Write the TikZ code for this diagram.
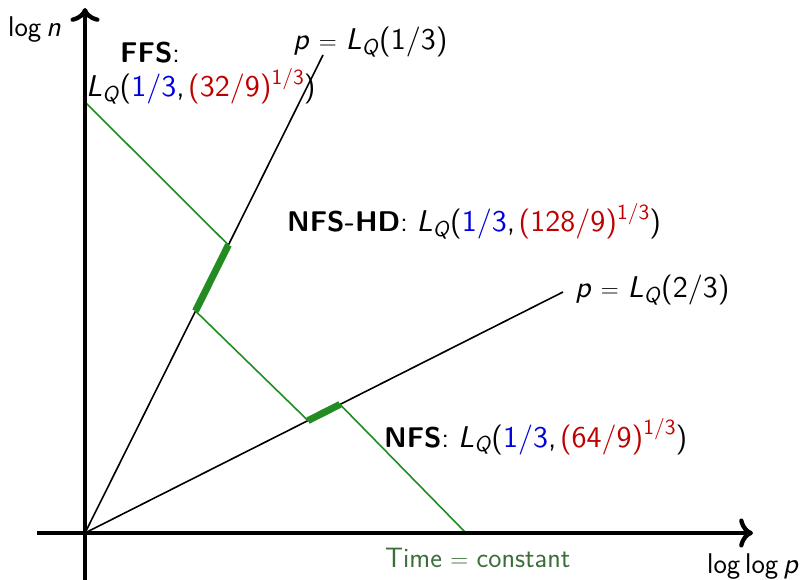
\documentclass[tikz,border=0pt]{standalone}
\usepackage{fontspec}
\newfontfamily\msf{lmsans10-regular}[Extension=.otf, ItalicFont=lmsans10-oblique, BoldFont=lmsans10-bold]
\usetikzlibrary{calc,arrows.meta}
\definecolor{myblue}{RGB}{0,0,220}
\definecolor{myred}{RGB}{190,0,0}
\definecolor{mygreen}{RGB}{34,139,34}
\definecolor{timegreen}{RGB}{60,110,60}
\newcommand{\mth}{\msf\fontsize{30}{34}\selectfont}
\newcommand{\scsz}{\fontsize{21.5}{24}\selectfont}
\newcommand{\LQ}{\textit{L}\raisebox{-0.16em}{\scsz\textit{Q}}}
\newcommand{\sperthird}{\raisebox{0.42em}{\scsz 1/3}}
\newcommand{\eqsign}{\hspace{.3em}$=$\hspace{.3em}}
\newcommand{\cm}{,\hspace{.12em}}
\begin{document}
\begin{tikzpicture}[x=1pt,y=-1pt,
  every node/.style={inner sep=0pt, font=\sffamily\fontsize{28.5}{33}\selectfont},
  axisline/.style={line width=4.3pt,-{To[scale=1.25]}},
  plainline/.style={line width=1.6pt,black},
  timeline/.style={line width=1.6pt,mygreen},
  thickseg/.style={line width=7pt,mygreen}]
\useasboundingbox (0,0) rectangle (806,580);
\coordinate (O) at (85,533);
\coordinate (ytop) at (85,8);
\coordinate (ybot) at (85,582);
\coordinate (xl) at (37,533);
\coordinate (xr) at (753,533);
\coordinate (A) at (323,55);
\coordinate (B) at (563,292);
\coordinate (Y0) at (85,102);
\coordinate (P1) at (228.4,245);
\coordinate (P2) at (195.5,311);
\coordinate (P3) at (308,420.6);
\coordinate (P4) at (340,404.4);
\coordinate (X0) at (466,533);
% lines
\draw[plainline] (O) -- (A);
\draw[plainline] (O) -- (B);
\draw[timeline] (Y0) -- (P1);
\draw[timeline] (P2) -- (P3);
\draw[timeline] (P4) -- (X0);
\draw[thickseg] (P1) -- (P2);
\draw[thickseg] (P3) -- (P4);
% axes
\draw[axisline] (ybot) -- (ytop);
\draw[axisline] (xl) -- (xr);
% labels
\node[anchor=base west] (logn) at (8,37) {log\hspace{.17em}{\msf\textit{n}}};
\node[anchor=base west] (loglogp) at (707,573) {log\hspace{.17em}log\hspace{.17em}{\msf\textit{p}}};
\node[anchor=base west] (p13) at (293,50) {\mth\textit{p}\eqsign\LQ(1/3)};
\node[anchor=base west] (p23) at (575,298) {\mth\textit{p}\eqsign\LQ(2/3)};
\node[anchor=base west] (ffs) at (120,63) {\textbf{FFS}:};
\node[anchor=base west] (ffsL) at (86,97) {\mth\LQ(\textcolor{myblue}{1/3}\cm\textcolor{myred}{(32/9)\sperthird})};
\node[anchor=base west] (nfshd) at (287,232) {\textbf{NFS-HD}: {\mth\LQ(\textcolor{myblue}{1/3}\cm\textcolor{myred}{(128/9)\sperthird})}};
\node[anchor=base west] (nfs) at (384,447) {\textbf{NFS}: {\mth\LQ(\textcolor{myblue}{1/3}\cm\textcolor{myred}{(64/9)\sperthird})}};
\node[anchor=base west, text=timegreen, font=\sffamily\fontsize{28}{33}\selectfont] (time) at (385,567) {Time\eqsign constant};
\end{tikzpicture}
\end{document}
